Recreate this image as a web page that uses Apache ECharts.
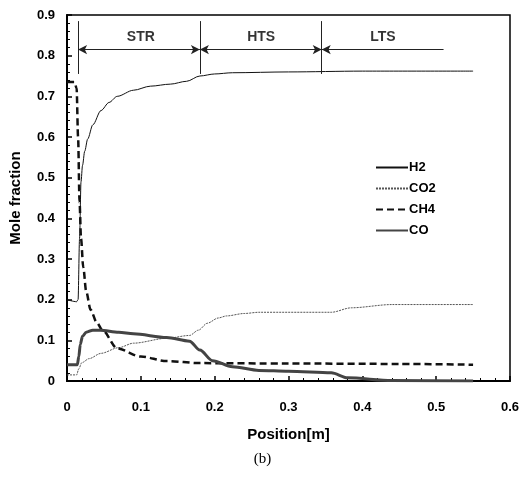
<!DOCTYPE html>
<html>
<head>
<meta charset="utf-8">
<script src="https://cdn.jsdelivr.net/npm/echarts@6/dist/echarts.min.js"></script>
<style>
  html, body { margin: 0; padding: 0; background: #fff; }
  #main { width: 525px; height: 483px; }
</style>
</head>
<body>
<div id="main"></div>
<script>
// values
var h2X  = [0, 0.013, 0.015, 0.017, 0.019, 0.021, 0.024, 0.028, 0.035, 0.046, 0.057, 0.068, 0.09, 0.113, 0.14, 0.162, 0.18, 0.2, 0.224, 0.3, 0.4, 0.55];
var h2Y  = [0.2, 0.195, 0.2, 0.35, 0.49, 0.53, 0.565, 0.595, 0.63, 0.665, 0.685, 0.7, 0.715, 0.725, 0.73, 0.737, 0.75, 0.755, 0.758, 0.76, 0.762, 0.762];

var co2X = [0, 0.013, 0.016, 0.02, 0.03, 0.046, 0.07, 0.09, 0.135, 0.166, 0.178, 0.19, 0.205, 0.216, 0.24, 0.26, 0.358, 0.385, 0.44, 0.55];
var co2Y = [0.015, 0.015, 0.03, 0.045, 0.055, 0.068, 0.082, 0.093, 0.105, 0.112, 0.125, 0.142, 0.155, 0.16, 0.166, 0.169, 0.169, 0.18, 0.188, 0.188];

var ch4X = [0, 0.01, 0.013, 0.015, 0.017, 0.019, 0.022, 0.026, 0.032, 0.04, 0.048, 0.068, 0.1, 0.135, 0.18, 0.3, 0.45, 0.55];
var ch4Y = [0.735, 0.735, 0.72, 0.6, 0.44, 0.35, 0.28, 0.22, 0.175, 0.145, 0.125, 0.08, 0.06, 0.049, 0.044, 0.043, 0.042, 0.04];

var coX  = [0, 0.014, 0.016, 0.018, 0.021, 0.026, 0.035, 0.045, 0.07, 0.09, 0.135, 0.166, 0.18, 0.197, 0.224, 0.26, 0.3, 0.358, 0.38, 0.44, 0.55];
var coY  = [0.04, 0.04, 0.06, 0.09, 0.11, 0.12, 0.125, 0.125, 0.12, 0.116, 0.107, 0.098, 0.076, 0.05, 0.035, 0.026, 0.024, 0.02, 0.008, 0.001, 0];

var zoneNames  = ['STR', 'HTS', 'LTS'];
var zoneBounds = [0.015, 0.18, 0.345, 0.51];
var zoneLabelX = [0.1, 0.263, 0.428];
var xTicks = [0, 0.1, 0.2, 0.3, 0.4, 0.5, 0.6];

function pairs(xs, ys) {
  return xs.map(function (x, i) { return [x, ys[i]]; });
}

var myChart = echarts.init(document.getElementById('main'));

var boundLines = [];
for (var i = 0; i < 3; i++) {
  boundLines.push([{ coord: [zoneBounds[i], 0.885], symbol: 'none' }, { coord: [zoneBounds[i], 0.755], symbol: 'none' }]);
}
var arrowLines = [
  [{ coord: [zoneBounds[0], 0.815], symbol: 'arrow' }, { coord: [zoneBounds[1], 0.815], symbol: 'arrow' }],
  [{ coord: [zoneBounds[1], 0.815], symbol: 'arrow' }, { coord: [zoneBounds[2], 0.815], symbol: 'arrow' }],
  [{ coord: [zoneBounds[2], 0.815], symbol: 'arrow' }, { coord: [zoneBounds[3], 0.815], symbol: 'none' }]
];

var lineSmooth = { smooth: 0.3, smoothMonotone: 'x' };

var option = {
  animation: false,
  backgroundColor: '#fff',
  textStyle: { fontFamily: 'Liberation Sans, Arial, sans-serif' },
  grid: { left: 65, right: 15, top: 15, bottom: 102, show: true, borderColor: '#000', borderWidth: 1.5 },
  legend: {
    orient: 'vertical',
    left: 370,
    top: 156,
    itemWidth: 32,
    itemHeight: 10,
    itemGap: 8,
    itemStyle: { opacity: 0 },
    textStyle: { fontWeight: 'bold', fontSize: 13, color: '#000', padding: [0, 0, 0, -4] },
    data: ['H2', 'CO2', 'CH4', 'CO']
  },
  xAxis: {
    type: 'value',
    min: 0, max: 0.6, interval: 0.1,
    name: 'Position[m]',
    nameLocation: 'middle',
    nameGap: 46,
    nameTextStyle: { fontWeight: 'bold', fontSize: 15, color: '#000' },
    axisLine: { show: true, lineStyle: { color: '#000', width: 2 } },
    axisTick: { inside: true, length: 5, lineStyle: { color: '#000', width: 1.5 } },
    minorTick: { show: true, splitNumber: 5, length: 3, lineStyle: { color: '#000' } },
    splitLine: { show: false },
    axisLabel: {
      margin: 20, fontWeight: 'bold', fontSize: 13, color: '#000',
      formatter: function (v) { return String(xTicks[Math.round(v * 10)]); }
    }
  },
  yAxis: {
    type: 'value',
    min: 0, max: 0.9, interval: 0.1,
    name: 'Mole fraction',
    nameLocation: 'middle',
    nameGap: 44,
    nameTextStyle: { fontWeight: 'bold', fontSize: 15, color: '#000' },
    axisLine: { show: true, lineStyle: { color: '#000', width: 2 } },
    axisTick: { inside: true, length: 5, lineStyle: { color: '#000', width: 1.5 } },
    minorTick: { show: true, splitNumber: 5, length: 3, lineStyle: { color: '#000' } },
    splitLine: { show: false },
    axisLabel: {
      margin: 12, fontWeight: 'bold', fontSize: 13, color: '#000',
      formatter: function (v) { return String(Math.round(v * 10) / 10); }
    }
  },
  graphic: [{
    type: 'text', left: 'center', top: 452,
    style: { text: '(b)', font: '15px "Liberation Serif", "Times New Roman", serif', fill: '#000' }
  }],
  series: [
    Object.assign({
      name: 'H2', type: 'line', symbol: 'none', data: pairs(h2X, h2Y),
      lineStyle: { color: '#111', width: 1 }, itemStyle: { color: '#111' }
    }, lineSmooth),
    Object.assign({
      name: 'CO2', type: 'line', symbol: 'none', data: pairs(co2X, co2Y),
      lineStyle: { color: '#555', width: 1, type: [2, 1] }, itemStyle: { color: '#555' }
    }, lineSmooth),
    Object.assign({
      name: 'CH4', type: 'line', symbol: 'none', data: pairs(ch4X, ch4Y),
      lineStyle: { color: '#111', width: 2.5, type: [7, 4] }, itemStyle: { color: '#111' }
    }, lineSmooth),
    Object.assign({
      name: 'CO', type: 'line', symbol: 'none', data: pairs(coX, coY),
      lineStyle: { color: '#444', width: 3 }, itemStyle: { color: '#444' }
    }, lineSmooth),
    {
      name: 'zones', type: 'scatter', symbolSize: 0, silent: true,
      data: zoneNames.map(function (n, i) { return { value: [zoneLabelX[i], 0.845], name: n }; }),
      label: {
        show: true, position: 'inside', formatter: '{b}',
        fontWeight: 'bold', fontSize: 14, color: '#000'
      },
      markLine: {
        silent: true, symbolSize: [7, 9], animation: false,
        label: { show: false },
        lineStyle: { color: '#222', width: 1, type: 'solid' },
        data: boundLines.concat(arrowLines)
      }
    }
  ]
};
myChart.setOption(option);
</script>
</body>
</html>
